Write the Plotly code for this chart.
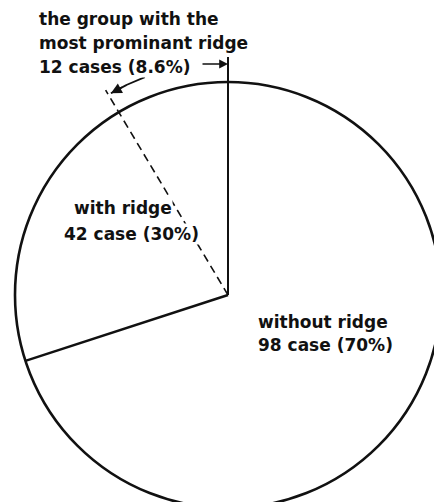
import math
import plotly.graph_objects as go

# ---- data ----
categories = ["with ridge", "without ridge"]
cases = [42, 98]
percent_labels = ["30%", "70%"]
prominent_cases = 12
prominent_label = "8.6%"
total = sum(cases)

# ---- geometry (pixel space of the page) ----
W, H = 434, 502
cx, cy, R = 228, 295, 213


def pt(frac, r):
    """point at a fraction of the full turn, counter-clockwise from the top"""
    a = 2 * math.pi * frac
    return cx - r * math.sin(a), cy - r * math.cos(a)


FONT = dict(family="DejaVu Sans", size=17, color="#111111", weight="bold")
INK = "#111111"

fig = go.Figure()

# outer circle
fig.add_shape(type="circle", xref="x", yref="y",
              x0=cx - R, x1=cx + R, y0=cy - R, y1=cy + R,
              line=dict(color=INK, width=2.6))

# slice boundary at the top (start of "with ridge"), extended above the rim
x_top, y_top = pt(0, R * 1.117)
fig.add_trace(go.Scatter(x=[cx, x_top], y=[cy, y_top], mode="lines",
                         line=dict(color=INK, width=2.0), hoverinfo="skip"))

# slice boundary at end of "with ridge"
x_b, y_b = pt(cases[0] / total, R)
fig.add_trace(go.Scatter(x=[cx, x_b], y=[cy, y_b], mode="lines",
                         line=dict(color=INK, width=2.4), hoverinfo="skip"))

# dashed boundary of the most prominent ridge group
x_d, y_d = pt(prominent_cases / total, R * 1.12)
fig.add_trace(go.Scatter(x=[cx, x_d], y=[cy, y_d], mode="lines",
                         line=dict(color=INK, width=1.6, dash="8px,5px"),
                         hoverinfo="skip"))

# curved arrow pointing at the dashed line
arc_r = R * 1.095
f_end = prominent_cases / total - 0.002
f_start = 0.058
n = 30
arc = [pt(f_start + (f_end - f_start) * i / (n - 1), arc_r) for i in range(n)]
fig.add_trace(go.Scatter(
    x=[p[0] for p in arc], y=[p[1] for p in arc], mode="lines",
    line=dict(color=INK, width=1.8), hoverinfo="skip"))
fig.add_annotation(x=arc[-1][0], y=arc[-1][1], ax=arc[-12][0], ay=arc[-12][1],
                   xref="x", yref="y", axref="x", ayref="y", text="",
                   showarrow=True, arrowhead=2, arrowsize=1.2, arrowwidth=1.8,
                   arrowcolor=INK)

# straight arrow to the top boundary
fig.add_annotation(x=cx, y=64, ax=201, ay=64, xref="x", yref="y",
                   axref="x", ayref="y", text="", showarrow=True,
                   arrowhead=2, arrowsize=1.1, arrowwidth=1.6,
                   arrowcolor=INK)


# ---- texts (left, baseline) ----
def label(text, x, base):
    fig.add_annotation(x=x, y=base - 6, xref="x", yref="y", text=text,
                       showarrow=False, xanchor="left", yanchor="middle",
                       font=FONT, bgcolor="white", borderpad=0)


label("the group with the", 38, 25)
label("most prominant ridge", 38, 49)
label(f"{prominent_cases} cases ({prominent_label})", 38, 73)
label(categories[0], 73, 214)
label(f"{cases[0]} case ({percent_labels[0]})", 63, 240)
label(categories[1], 257, 328)
label(f"{cases[1]} case ({percent_labels[1]})", 257, 351)

fig.update_layout(
    width=W, height=H, margin=dict(l=0, r=0, t=0, b=0),
    paper_bgcolor="white", plot_bgcolor="white", showlegend=False,
    xaxis=dict(range=[0, W], visible=False, fixedrange=True),
    yaxis=dict(range=[H, 0], visible=False, fixedrange=True),
)

fig.write_html("out.html", config={"displayModeBar": False},
               post_script="document.body.style.margin='0';"
                           "document.body.style.overflow='hidden';")
